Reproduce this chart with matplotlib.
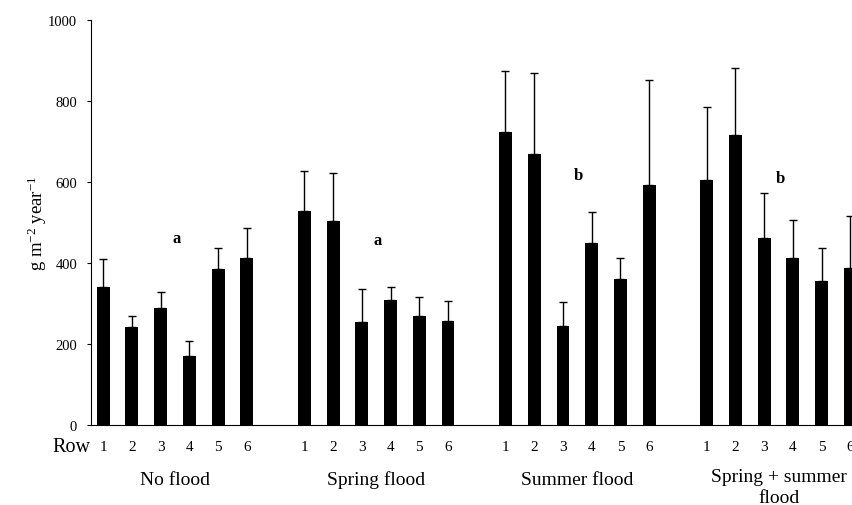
import numpy as np
import matplotlib.pyplot as plt
import matplotlib.transforms as mtransforms

plt.rcParams['font.family'] = ['Liberation Serif', 'DejaVu Serif']
plt.rcParams['mathtext.default'] = 'regular'

# datos
grupos = ["No flood", "Spring flood", "Summer flood", "Spring + summer\nflood"]
filas = ["1", "2", "3", "4", "5", "6"]
medias = [
    [340, 243, 290, 170, 385, 412],
    [529, 505, 255, 309, 268, 257],
    [723, 668, 245, 449, 360, 593],
    [605, 717, 461, 412, 355, 387],
]
errores = [
    [71, 27, 38, 38, 53, 75],
    [97, 118, 80, 32, 48, 50],
    [150, 201, 59, 76, 53, 258],
    [179, 165, 113, 95, 83, 130],
]
letras = ["a", "a", "b", "b"]
letras_y = [462, 457, 618, 610]

fig = plt.figure(figsize=(8.53, 5.06), dpi=100)
ax = fig.add_axes([0.1067, 0.158, 0.8933, 0.8005])

posiciones = []
etiquetas = []
for g in range(len(grupos)):
    x = np.arange(len(filas)) + g * 7
    ax.bar(x, medias[g], width=0.45, color="black", zorder=2)
    ax.errorbar(x, medias[g], yerr=[np.zeros(len(filas)), errores[g]],
                fmt="none", ecolor="black", elinewidth=1, capsize=3, capthick=1, zorder=1)
    ax.text(x.mean() + 0.05, letras_y[g], letras[g], ha="center", va="center",
            fontsize=12, fontweight="bold")
    posiciones.extend(x)
    etiquetas.extend(filas)

ax.set_xlim(-0.42, 26.09)
ax.set_ylim(0, 1000)
ax.set_yticks(np.arange(0, 1001, 200))
ax.set_xticks(posiciones)
ax.set_xticklabels(etiquetas, fontsize=11)
ax.tick_params(axis="x", length=0, pad=11)
ax.tick_params(axis="y", direction="out", length=3, pad=7, labelsize=10.5)
ax.spines["top"].set_visible(False)
ax.spines["right"].set_visible(False)
ax.set_ylabel("g m$^{-2}$ year$^{-1}$", fontsize=13.5, labelpad=-1)

trans = mtransforms.blended_transform_factory(ax.transData, ax.transAxes)
ax.text(-1.1, -0.054, "Row", transform=trans, ha="center", va="center", fontsize=14.5)
for g in range(len(grupos)):
    yy = -0.134 if "\n" not in grupos[g] else -0.152
    ax.text(g * 7 + 2.5, yy, grupos[g], transform=trans, ha="center", va="center",
            fontsize=14, linespacing=1.3)

fig.savefig("out.png", dpi=100)
